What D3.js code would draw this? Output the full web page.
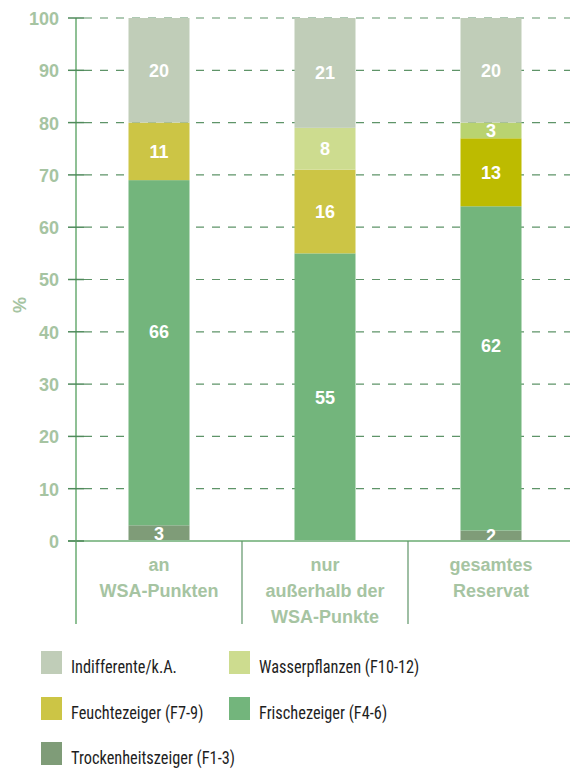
<!DOCTYPE html>
<html><head><meta charset="utf-8">
<script src="https://cdn.jsdelivr.net/npm/d3@7"></script>
<style>
html,body{margin:0;padding:0;background:#fff;}
svg{display:block;}
.h{font-family:'Liberation Sans',Arial,sans-serif;font-weight:bold;}
.n{font-family:'Roboto Condensed','Liberation Sans',sans-serif;}
</style></head>
<body>
<svg id="c" width="570" height="771"></svg>
<script>
const categories = [["an","WSA-Punkten"],["nur","außerhalb der","WSA-Punkte"],["gesamtes","Reservat"]];
const seriesNames = ["Trockenheitszeiger (F1-3)","Frischezeiger (F4-6)","Feuchtezeiger (F7-9)","Wasserpflanzen (F10-12)","Indifferente/k.A."];
const trocken = [3, 0, 2];
const frische = [66, 55, 62];
const feuchte = [11, 16, 13];
const wasser = [0, 8, 3];
const indiff = [20, 21, 20];
const yTicks = [0,10,20,30,40,50,60,70,80,90,100];
// the reference places the Frischezeiger value labels at these % levels (not the exact segment middle)
const frischeLabelAt = [40, 27.5, 37.3];
const seriesColors = ["#7f9c78","#73b57c","#ccc545","#cddc8f","#c0cdb8"];
// third bar uses more saturated tones in the reference
const barColorOverrides = {2: {2:"#bdbb00", 3:"#b9d370"}};
const legendOrder = [4,3,2,1,0];

const svg = d3.select("#c");
const values = [trocken, frische, feuchte, wasser, indiff];
const x0 = 76, x1 = 570, yTop = 18, yBot = 541;
const x = d3.scaleBand().domain(d3.range(categories.length)).range([x0, x1+4]).paddingInner(0).paddingOuter(0);
const barW = 61;
const y = d3.scaleLinear().domain([0,100]).range([yBot, yTop]);

// gridlines
svg.append("g").selectAll("line").data(yTicks.filter(t=>t>0)).join("line")
  .attr("x1", 84).attr("x2", 570).attr("y1", d=>y(d)).attr("y2", d=>y(d))
  .attr("stroke","#5e9468").attr("stroke-width",1.2).attr("stroke-dasharray","8,8");

// stacked bars
const stackData = categories.map((c,i)=>{let acc=0; return values.map((s,k)=>{const v=s[i]; const o={i,k,v,y0:acc,y1:acc+v}; acc+=v; return o;});});
const gBars = svg.append("g");
stackData.forEach((segs,i)=>{
  const cx = x(i) + x.bandwidth()/2;
  gBars.selectAll(null).data(segs.filter(d=>d.v>0)).join("rect")
    .attr("x", cx - barW/2).attr("width", barW)
    .attr("y", d=>y(d.y1)).attr("height", d=>y(d.y0)-y(d.y1))
    .attr("fill", d=> (barColorOverrides[i] && barColorOverrides[i][d.k]) || seriesColors[d.k]);
  gBars.selectAll(null).data(segs.filter(d=>d.v>0)).join("text")
    .attr("class","h")
    .attr("x", cx).attr("y", d=>y(d.k===1 ? frischeLabelAt[d.i] : (d.y0+d.y1)/2))
    .attr("dy","0.36em").attr("text-anchor","middle")
    .attr("font-size",18)
    .attr("fill","#fff").text(d=>d.v);
});

// x axis line
svg.append("line").attr("x1",68).attr("x2",570).attr("y1",yBot).attr("y2",yBot)
  .attr("stroke","#8fc095").attr("stroke-width",2);
// y axis line
svg.append("line").attr("x1",x0).attr("x2",x0).attr("y1",yTop).attr("y2",624)
  .attr("stroke","#8fc095").attr("stroke-width",2);
// separators
svg.append("g").selectAll("line").data(d3.range(1,categories.length)).join("line")
  .attr("x1",d=>x(d)).attr("x2",d=>x(d)).attr("y1",yBot).attr("y2",624)
  .attr("stroke","#5e9468").attr("stroke-width",1.2);

// y ticks
const yAxis = d3.axisLeft(y).tickValues(yTicks).tickSize(0).tickPadding(0);
const gy = svg.append("g").attr("transform",`translate(59,0)`).call(yAxis);
gy.select(".domain").remove();
gy.attr("font-family",null).attr("font-size",null);
gy.selectAll("text").attr("class","h")
  .attr("font-size",18).attr("fill","#a6c4a2").attr("x",0).attr("dy","0.36em");
svg.append("g").selectAll("line").data(yTicks).join("line")
  .attr("x1",68).attr("x2",84).attr("y1",d=>y(d)).attr("y2",d=>y(d))
  .attr("stroke","#4f8a5b").attr("stroke-width",1.5);

// y label
svg.append("text").attr("class","h").attr("transform","translate(26,305) rotate(-90)")
  .attr("text-anchor","middle")
  .attr("font-size",18).attr("fill","#a6c4a2").text("%");

// category labels
categories.forEach((lines,i)=>{
  const cx = x(i)+x.bandwidth()/2;
  const t = svg.append("text").attr("class","h").attr("text-anchor","middle")
    .attr("font-size",18).attr("fill","#a6c4a2");
  lines.forEach((l,j)=>t.append("tspan").attr("x",cx).attr("y",571+j*26).text(l));
});

// legend
const legPos = [[41,651],[229,651],[41,697],[229,697],[41,742]];
legendOrder.forEach((k,j)=>{
  const [lx,ly] = legPos[j];
  svg.append("rect").attr("x",lx).attr("y",ly).attr("width",21).attr("height",23).attr("fill",seriesColors[k]);
  const g = svg.append("g").attr("transform",`translate(${lx+30},${ly+15}) scale(0.86,1)`);
  g.append("text").attr("class","n").attr("x",0).attr("y",0).attr("dy","0.36em")
    .attr("font-size",19).attr("fill","#1e1e1e").text(seriesNames[k]);
});
</script>
</body></html>
